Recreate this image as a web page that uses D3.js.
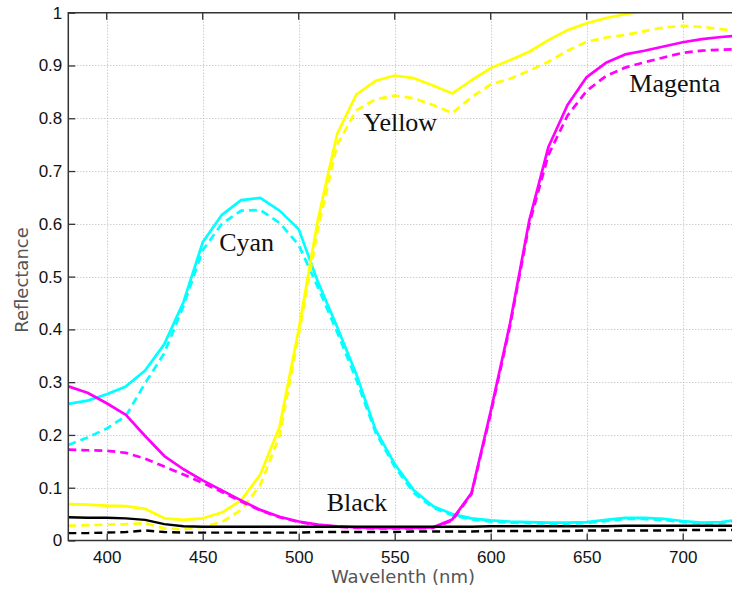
<!DOCTYPE html>
<html>
<head>
<meta charset="utf-8">
<script src="https://cdn.jsdelivr.net/npm/d3@7"></script>
<style>
  html, body { margin: 0; padding: 0; background: #fff; overflow: hidden; }
  .tick-label { font-family: "Liberation Sans", Arial, sans-serif; font-size: 17px; fill: #111; }
  .axis-title { font-family: "DejaVu Sans", sans-serif; font-size: 18px; fill: #555; }
  .ink-label { font-family: "Liberation Serif", "DejaVu Serif", serif; font-size: 26px; fill: #111; }
</style>
</head>
<body>
<div id="chartContainer"></div>
<script>
// wavelengths (nm)
const wavelengths = [380, 390, 400, 410, 420, 430, 440, 450, 460, 470, 480, 490, 500, 510, 520, 530, 540, 550,
                     560, 570, 580, 590, 600, 610, 620, 630, 640, 650, 660, 670, 680, 690, 700, 710, 720, 730];

const cyanSolid = [0.259, 0.265, 0.277, 0.292, 0.322, 0.372, 0.452, 0.565, 0.617, 0.645, 0.649, 0.625, 0.590, 0.490, 0.405, 0.315, 0.210, 0.145,
                   0.095, 0.065, 0.050, 0.042, 0.038, 0.036, 0.035, 0.034, 0.034, 0.035, 0.039, 0.043, 0.043, 0.041, 0.037, 0.034, 0.035, 0.040];
const cyanDashed = [0.181, 0.195, 0.212, 0.236, 0.298, 0.355, 0.445, 0.550, 0.600, 0.625, 0.626, 0.602, 0.560, 0.480, 0.395, 0.305, 0.205, 0.140,
                    0.090, 0.062, 0.048, 0.040, 0.036, 0.034, 0.033, 0.032, 0.032, 0.033, 0.037, 0.041, 0.041, 0.039, 0.035, 0.032, 0.033, 0.038];

const magentaSolid = [0.292, 0.280, 0.260, 0.238, 0.198, 0.160, 0.135, 0.114, 0.095, 0.076, 0.058, 0.045, 0.036, 0.030, 0.027, 0.025, 0.024, 0.024,
                      0.024, 0.025, 0.040, 0.090, 0.245, 0.410, 0.605, 0.745, 0.825, 0.878, 0.905, 0.921, 0.928, 0.936, 0.944, 0.950, 0.954, 0.957];
const magentaDashed = [0.172, 0.171, 0.170, 0.166, 0.155, 0.140, 0.125, 0.109, 0.092, 0.074, 0.057, 0.044, 0.035, 0.029, 0.026, 0.024, 0.023, 0.023,
                       0.023, 0.024, 0.038, 0.088, 0.240, 0.405, 0.598, 0.730, 0.805, 0.852, 0.880, 0.896, 0.906, 0.915, 0.924, 0.928, 0.930, 0.931];

const yellowSolid = [0.069, 0.068, 0.066, 0.065, 0.060, 0.042, 0.039, 0.042, 0.053, 0.076, 0.125, 0.215, 0.400, 0.608, 0.770, 0.845, 0.871, 0.881,
                     0.876, 0.862, 0.847, 0.872, 0.895, 0.910, 0.926, 0.948, 0.967, 0.980, 0.990, 0.997, 1.003, 1.008, 1.010, 1.012, 1.012, 1.010];
const yellowDashed = [0.028, 0.029, 0.030, 0.031, 0.033, 0.023, 0.021, 0.026, 0.035, 0.058, 0.105, 0.198, 0.390, 0.590, 0.750, 0.815, 0.836, 0.843,
                      0.838, 0.825, 0.810, 0.840, 0.864, 0.875, 0.890, 0.907, 0.928, 0.945, 0.953, 0.958, 0.965, 0.972, 0.975, 0.973, 0.969, 0.965];

const blackSolid = [0.044, 0.043, 0.043, 0.042, 0.039, 0.031, 0.027, 0.026, 0.026, 0.026, 0.026, 0.026, 0.026, 0.026, 0.026, 0.026, 0.026, 0.026,
                    0.026, 0.026, 0.026, 0.026, 0.027, 0.027, 0.027, 0.027, 0.027, 0.027, 0.027, 0.028, 0.028, 0.028, 0.028, 0.028, 0.028, 0.028];
const blackDashed = [0.014, 0.014, 0.015, 0.016, 0.019, 0.016, 0.015, 0.015, 0.015, 0.015, 0.015, 0.015, 0.015, 0.016, 0.016, 0.016, 0.016, 0.016,
                     0.017, 0.017, 0.017, 0.017, 0.018, 0.018, 0.018, 0.018, 0.018, 0.019, 0.019, 0.019, 0.019, 0.019, 0.020, 0.020, 0.020, 0.020];

const xTicks = [400, 450, 500, 550, 600, 650, 700];
const yTicks = [0, 0.1, 0.2, 0.3, 0.4, 0.5, 0.6, 0.7, 0.8, 0.9, 1];

// ink names, anchored at (wavelength, reflectance) of the label's left baseline
const inkNames = ["Cyan", "Yellow", "Magenta", "Black"];
const inkNameWl = [458.6, 533.6, 672.2, 514.6];
const inkNameRef = [0.549, 0.775, 0.85, 0.055];

const width = 732, height = 592;
const margin = { top: 12.7, left: 68.3, bottom: 51.5 };

const svg = d3.select("#chartContainer")
  .append("svg")
  .attr("width", width)
  .attr("height", height)
  .style("display", "block");

// Scales (plot runs past the right edge of the picture)
const xScale = d3.scaleLinear()
  .domain([380, 730])
  .range([margin.left, margin.left + 350 * 1.92]);

const yScale = d3.scaleLinear()
  .domain([0, 1])
  .range([height - margin.bottom, margin.top]);

const x0 = xScale(380), x1 = xScale(730), y0 = yScale(0), y1 = yScale(1);

// Grid
const grid = svg.append("g")
  .attr("stroke", "#b8b8b8")
  .attr("stroke-width", 1)
  .attr("stroke-dasharray", "1,2");

grid.selectAll(".vgrid")
  .data(xTicks)
  .enter()
  .append("line")
  .attr("x1", d => Math.round(xScale(d)) + 0.5)
  .attr("x2", d => Math.round(xScale(d)) + 0.5)
  .attr("y1", y1)
  .attr("y2", y0);

grid.selectAll(".hgrid")
  .data(yTicks.slice(1, -1))
  .enter()
  .append("line")
  .attr("x1", x0)
  .attr("x2", x1)
  .attr("y1", d => Math.round(yScale(d)) + 0.5)
  .attr("y2", d => Math.round(yScale(d)) + 0.5);

// Curves
svg.append("clipPath")
  .attr("id", "plotClip")
  .append("rect")
  .attr("x", x0)
  .attr("y", y1)
  .attr("width", x1 - x0)
  .attr("height", y0 - y1);

const series = [
  { values: cyanSolid, color: "#00ffff", dash: null, w: 2.7 },
  { values: cyanDashed, color: "#00ffff", dash: "8,5", w: 2.7 },
  { values: yellowSolid, color: "#ffff00", dash: null, w: 2.7 },
  { values: yellowDashed, color: "#ffff00", dash: "8,5", w: 2.7 },
  { values: magentaSolid, color: "#ff00ff", dash: null, w: 2.7 },
  { values: magentaDashed, color: "#ff00ff", dash: "8,5", w: 2.7 },
  { values: blackSolid, color: "#000000", dash: null, w: 2.4 },
  { values: blackDashed, color: "#000000", dash: "8,5", w: 2.4 }
];

const line = d3.line()
  .x((d, i) => xScale(wavelengths[i]))
  .y(d => yScale(d));

svg.append("g")
  .attr("clip-path", "url(#plotClip)")
  .selectAll("path")
  .data(series)
  .enter()
  .append("path")
  .attr("d", d => line(d.values))
  .attr("fill", "none")
  .attr("stroke", d => d.color)
  .attr("stroke-width", d => d.w)
  .attr("stroke-linejoin", "round")
  .attr("stroke-dasharray", d => d.dash);

// Box and ticks
const axisColor = "#333";
svg.append("path")
  .attr("d", `M${x1},${y0}H${x0}V${y1}H${x1}`)
  .attr("fill", "none")
  .attr("stroke", axisColor)
  .attr("stroke-width", 1.5);

// X axis
const xAxis = svg.append("g")
  .attr("transform", `translate(0, ${y0})`)
  .call(d3.axisBottom(xScale).tickValues(xTicks).tickSizeInner(-7).tickSizeOuter(0).tickPadding(10));
xAxis.select(".domain").remove();
xAxis.selectAll(".tick line").attr("stroke", axisColor).attr("stroke-width", 1.3);
xAxis.selectAll(".tick text").attr("class", "tick-label").attr("font-size", null).attr("font-family", null);

// top ticks
svg.append("g")
  .attr("transform", `translate(0, ${y1})`)
  .selectAll("line")
  .data(xTicks)
  .enter()
  .append("line")
  .attr("x1", d => xScale(d))
  .attr("x2", d => xScale(d))
  .attr("y1", 0)
  .attr("y2", 7)
  .attr("stroke", axisColor)
  .attr("stroke-width", 1.3);

// Y axis
const yAxis = svg.append("g")
  .attr("transform", `translate(${x0}, 0)`)
  .call(d3.axisLeft(yScale).tickValues(yTicks).tickFormat(d3.format("~g")).tickSizeInner(-7).tickSizeOuter(0).tickPadding(6));
yAxis.select(".domain").remove();
yAxis.selectAll(".tick line").attr("stroke", axisColor).attr("stroke-width", 1.3);
yAxis.selectAll(".tick text").attr("class", "tick-label").attr("font-size", null).attr("font-family", null);

// Axis titles
svg.append("text")
  .attr("class", "axis-title")
  .attr("text-anchor", "middle")
  .attr("x", 403)
  .attr("y", 583)
  .text("Wavelenth (nm)");

svg.append("text")
  .attr("class", "axis-title")
  .attr("text-anchor", "middle")
  .attr("transform", "translate(28, 280) rotate(-90)")
  .text("Reflectance");

// Ink names
svg.append("g")
  .selectAll("text")
  .data(inkNames)
  .enter()
  .append("text")
  .attr("class", "ink-label")
  .attr("x", (d, i) => xScale(inkNameWl[i]))
  .attr("y", (d, i) => yScale(inkNameRef[i]))
  .text(d => d);
</script>
</body>
</html>
